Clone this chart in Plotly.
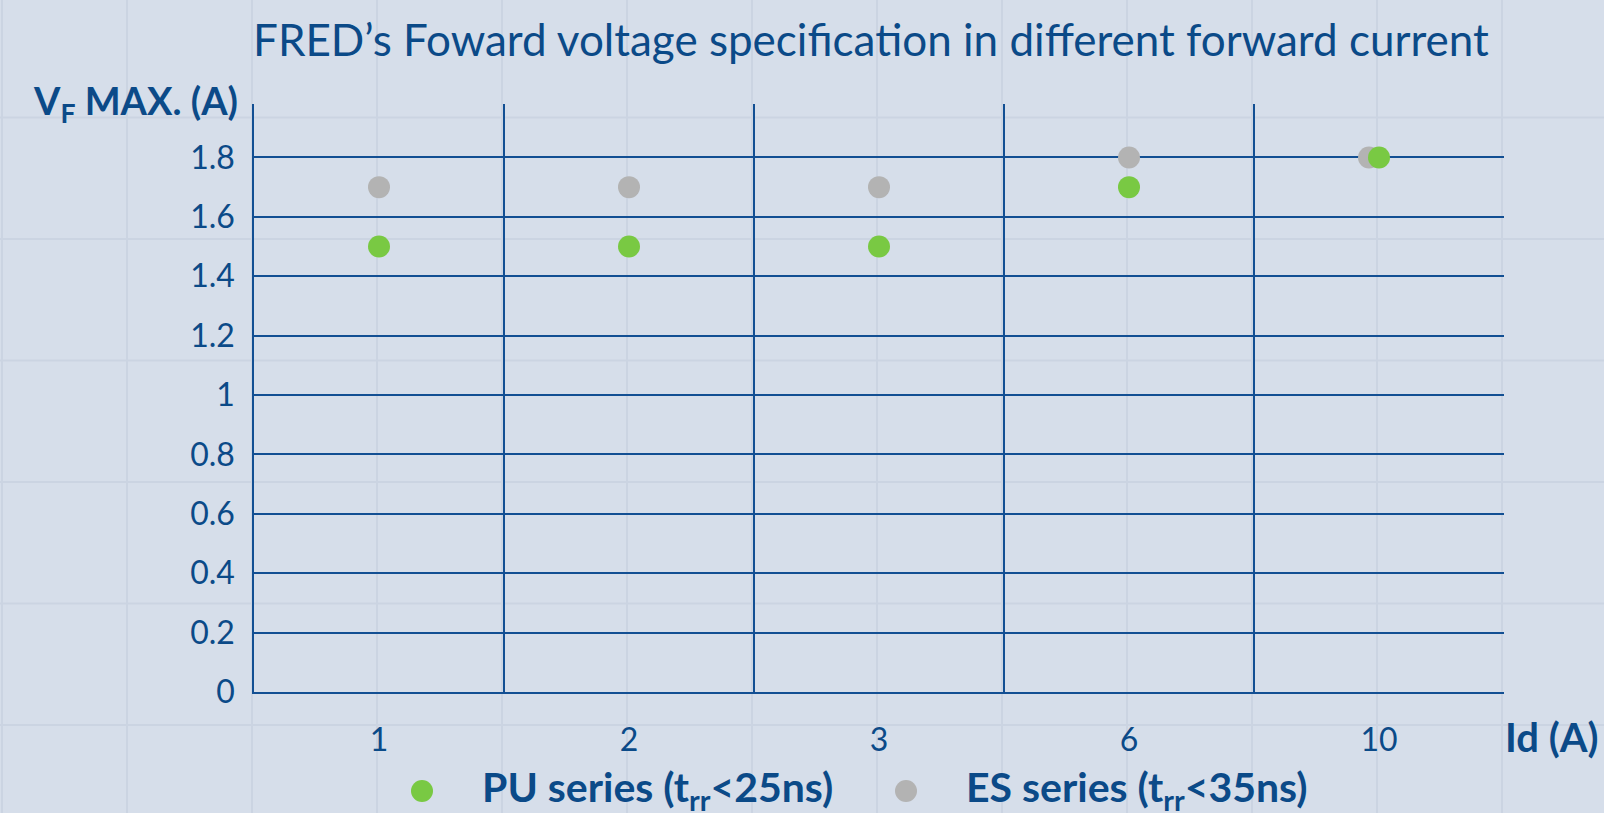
import plotly.graph_objects as go

# ---------------- data ----------------
categories = ["1", "2", "3", "6", "10"]            # forward current Id (A)
pu_values = [1.5, 1.5, 1.5, 1.7, 1.8]               # PU series VF max
es_values = [1.7, 1.7, 1.7, 1.8, 1.8]               # ES series VF max
es_offset = [0, 0, 0, 0, -0.04]                     # small shift so overlapping dots stay visible
pu_name = "PU series (t<sub>rr</sub><25ns)"
es_name = "ES series (t<sub>rr</sub><35ns)"
title_text = "FRED’s Foward voltage specification in different forward current"
y_title = "V<sub>F</sub> MAX. (A)"
x_title = "Id (A)"

# ---------------- styling ----------------
W_FIG, H_FIG = 1604, 813
L, T, W, H = 254, 104, 1250, 588
BG = "#D6DEEA"
FAINT = "#CBD4E2"
NAVY = "#0B4A88"
GRID = "#124F93"
GREEN = "#79C943"
GREY = "#B3B3B3"
FONT = "Lato"

def px_x(px):
    return (px - L) / W

def px_y(py):
    return (T + H - py) / H

pos = list(range(len(categories)))

fig = go.Figure()
fig.add_trace(go.Scatter(
    x=[p + o for p, o in zip(pos, es_offset)], y=es_values, mode="markers",
    name=es_name, marker=dict(size=22, color=GREY), showlegend=False))
fig.add_trace(go.Scatter(
    x=pos, y=pu_values, mode="markers",
    name=pu_name, marker=dict(size=22, color=GREEN), showlegend=False))

shapes = []
# faint spreadsheet-like background grid
for k in range(13):
    xx = 2 + 125 * k
    shapes.append(dict(type="line", xref="paper", yref="paper",
                       x0=px_x(xx), x1=px_x(xx), y0=px_y(-5), y1=px_y(820),
                       line=dict(color=FAINT, width=2), layer="below"))
for k in range(7):
    yy = -4 + 121.5 * k
    shapes.append(dict(type="line", xref="paper", yref="paper",
                       x0=px_x(-5), x1=px_x(1610), y0=px_y(yy), y1=px_y(yy),
                       line=dict(color=FAINT, width=2), layer="below"))

# custom legend markers
for cx, col in [(422, GREEN), (906, GREY)]:
    shapes.append(dict(type="circle", xref="paper", yref="paper",
                       xsizemode="pixel", ysizemode="pixel",
                       xanchor=px_x(cx), yanchor=px_y(791),
                       x0=-11, x1=11, y0=-11, y1=11,
                       fillcolor=col, line=dict(width=0)))

annotations = [
    dict(text=title_text, xref="paper", yref="paper", x=px_x(251), y=px_y(39),
         xanchor="left", yanchor="middle", showarrow=False,
         font=dict(family=FONT, size=44, color=NAVY)),
    dict(text="<b>" + y_title + "</b>", xref="paper", yref="paper", x=px_x(240), y=px_y(103),
         xanchor="right", yanchor="middle", showarrow=False,
         font=dict(family=FONT, size=38, color=NAVY)),
    dict(text="<b>" + x_title + "</b>", xref="paper", yref="paper", x=px_x(1503), y=px_y(737),
         xanchor="left", yanchor="middle", showarrow=False,
         font=dict(family=FONT, size=40, color=NAVY)),
    dict(text="<b>" + pu_name + "</b>", xref="paper", yref="paper", x=px_x(480), y=px_y(789),
         xanchor="left", yanchor="middle", showarrow=False,
         font=dict(family=FONT, size=41, color=NAVY)),
    dict(text="<b>" + es_name + "</b>", xref="paper", yref="paper", x=px_x(964), y=px_y(789),
         xanchor="left", yanchor="middle", showarrow=False,
         font=dict(family=FONT, size=41, color=NAVY)),
]

fig.update_layout(
    width=W_FIG, height=H_FIG,
    margin=dict(l=L, r=W_FIG - L - W, t=T, b=H_FIG - T - H, pad=0),
    paper_bgcolor=BG, plot_bgcolor="rgba(0,0,0,0)",
    showlegend=False,
    shapes=shapes, annotations=annotations,
    font=dict(family=FONT, color=NAVY),
)
fig.update_xaxes(
    range=[-0.5, 4.5], tickmode="array", tickvals=pos, ticktext=categories,
    showgrid=False, zeroline=False,
    showline=True, linecolor=GRID, linewidth=1.5,
    ticks="", ticklabelstandoff=19,
    tickfont=dict(family=FONT, size=32, color=NAVY),
    minor=dict(tickmode="array", tickvals=[p + 0.5 for p in pos[:-1]],
               showgrid=True, gridcolor=GRID, gridwidth=1.5, ticks=""),
)
fig.update_yaxes(
    range=[0, 1.98], dtick=0.2, tick0=0,
    showgrid=True, gridcolor=GRID, gridwidth=1.5, zeroline=False,
    showline=True, linecolor=GRID, linewidth=1.5,
    ticks="", ticklabelstandoff=11,
    tickfont=dict(family=FONT, size=32, color=NAVY),
)

fig.write_html("out.html",
               config={"displayModeBar": False},
               post_script="document.body.style.margin='0px';document.body.style.overflow='hidden';")
